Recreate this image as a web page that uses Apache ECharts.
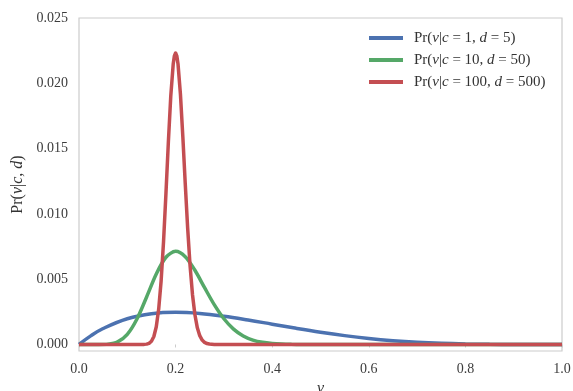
<!DOCTYPE html>
<html>
<head>
<meta charset="utf-8">
<script src="https://cdn.jsdelivr.net/npm/echarts@6/dist/echarts.min.js"></script>
<style>
  html, body { margin: 0; padding: 0; background: #ffffff; }
  #chart { width: 573px; height: 391px; }
</style>
</head>
<body>
<div id="chart"></div>
<script>
// Posterior densities Pr(nu | c, d) on a 1000-point grid (values per grid cell)
const seriesNames = ['Pr(ν|c = 1, d = 5)', 'Pr(ν|c = 10, d = 50)', 'Pr(ν|c = 100, d = 500)'];

const nuBlue = [0, 0.025, 0.05, 0.1, 0.15, 0.2, 0.25, 0.3, 0.35, 0.4, 0.45, 0.5, 0.55, 0.6, 0.65, 0.7, 0.75, 0.8, 0.85, 0.9, 0.95, 1.0];
const prBlue = [0, 0.000678, 0.001222, 0.001968, 0.002349, 0.002458, 0.002373, 0.002161, 0.001874, 0.001555, 0.001235, 0.000938, 0.000677, 0.000461, 0.000293, 0.000170, 0.0000879, 0.0000384, 0.0000129, 0.0000027, 0.0000002, 0];

const nuGreen = [0, 0.02, 0.04, 0.06, 0.08, 0.10, 0.12, 0.14, 0.16, 0.18, 0.20, 0.22, 0.24, 0.26, 0.28, 0.30, 0.32, 0.34, 0.36, 0.38, 0.40, 0.42, 0.44, 0.46, 0.50, 0.6, 0.7, 0.8, 0.9, 1.0];
const prGreen = [0, 0.0000002, 0.0000011, 0.0000267, 0.000200, 0.000775, 0.001952, 0.003636, 0.005392, 0.006679, 0.00713, 0.006723, 0.00568, 0.004349, 0.00305, 0.00197, 0.001179, 0.000654, 0.000339, 0.000163, 0.0000735, 0.0000308, 0.000012, 0.0000044, 0.0000005, 0, 0, 0, 0, 0];

const nuRed = [0, 0.1, 0.13, 0.135, 0.14, 0.145, 0.15, 0.155, 0.16, 0.165, 0.17, 0.175, 0.18, 0.185, 0.19, 0.195, 0.1975, 0.2, 0.2025, 0.205, 0.21, 0.215, 0.22, 0.225, 0.23, 0.235, 0.24, 0.245, 0.25, 0.255, 0.26, 0.265, 0.27, 0.28, 0.3, 0.5, 0.75, 1.0];
const prRed = [0, 0, 0.000002, 0.000007, 0.0000264, 0.0000857, 0.000244, 0.00061, 0.00136, 0.002708, 0.004852, 0.007854, 0.011547, 0.015483, 0.019015, 0.021454, 0.022104, 0.02232, 0.022104, 0.021477, 0.019164, 0.015899, 0.012298, 0.008883, 0.006009, 0.00381, 0.002272, 0.001274, 0.000673, 0.000336, 0.000158, 0.0000706, 0.0000299, 0.0000046, 0, 0, 0, 0];

const xTickValues = [0, 0.2, 0.4, 0.6, 0.8, 1.0];
const xTickLabels = ['0.0', '0.2', '0.4', '0.6', '0.8', '1.0'];
const yTickValues = [0, 0.005, 0.010, 0.015, 0.020, 0.025];
const yTickLabels = ['0.000', '0.005', '0.010', '0.015', '0.020', '0.025'];

const colors = ['#4c72b0', '#55a868', '#c44e52'];
const serif = '"Liberation Serif", "DejaVu Serif", serif';

function pairs(xs, ys) { return xs.map((x, i) => [x, ys[i]]); }
function lookup(values, labels, v) {
  for (let i = 0; i < values.length; i++) {
    if (Math.abs(values[i] - v) < 1e-7) return labels[i];
  }
  return '';
}

// Math-style text: italic symbols, upright digits and operators
function mathRich(size) {
  return {
    n: { fontFamily: serif, fontSize: size, color: '#333' },
    i: { fontFamily: serif, fontSize: size, color: '#333', fontStyle: 'italic' }
  };
}
function legendText(name) {
  const m = name.match(/c = (\d+), d = (\d+)/);
  return '{n|Pr(}{i|ν}{n||}{i|c}{n| = ' + m[1] + ', }{i|d}{n| = ' + m[2] + ')}';
}

const chart = echarts.init(document.getElementById('chart'), null, { renderer: 'canvas' });
chart.setOption({
  animation: false,
  backgroundColor: '#ffffff',
  color: colors,
  grid: {
    left: 79, right: 11, top: 18, bottom: 40,
    outerBoundsMode: 'none',
    containLabel: false,
    show: true, borderColor: '#cccccc', borderWidth: 1.2, backgroundColor: 'transparent'
  },
  legend: {
    orient: 'vertical',
    left: 364, top: 25,
    icon: 'rect',
    itemWidth: 34, itemHeight: 4,
    itemGap: 6,
    data: seriesNames,
    formatter: legendText,
    textStyle: { rich: mathRich(15), lineHeight: 16, height: 16, padding: [0, 0, 0, 6] }
  },
  xAxis: {
    type: 'value',
    min: 0, max: 1, interval: 0.2,
    name: 'ν',
    nameLocation: 'middle',
    nameGap: 27,
    nameTextStyle: { fontFamily: serif, fontSize: 16, fontStyle: 'italic', color: '#333' },
    axisLine: { show: false },
    axisTick: { show: true, length: 3, lineStyle: { color: '#cccccc' } },
    splitLine: { show: false },
    axisLabel: {
      margin: 11,
      fontFamily: serif, fontSize: 14, color: '#3c3c3c',
      formatter: v => lookup(xTickValues, xTickLabels, v)
    }
  },
  yAxis: {
    type: 'value',
    min: -0.0005, max: 0.025, interval: 0.0005,
    name: '{n|Pr(}{i|ν}{n||}{i|c}{n|, }{i|d}{n|)}',
    nameLocation: 'middle',
    nameGap: 49,
    nameRotate: 90,
    nameTextStyle: { rich: mathRich(16) },
    axisLine: { show: false },
    axisTick: { show: false },
    splitLine: { show: false },
    axisLabel: {
      margin: 11,
      fontFamily: serif, fontSize: 14, color: '#3c3c3c',
      formatter: v => lookup(yTickValues, yTickLabels, v)
    }
  },
  series: [
    { name: seriesNames[0], type: 'line', data: pairs(nuBlue, prBlue), smooth: 0.4, showSymbol: false, symbol: 'none', lineStyle: { width: 3.5 } },
    { name: seriesNames[1], type: 'line', data: pairs(nuGreen, prGreen), smooth: 0.3, showSymbol: false, symbol: 'none', lineStyle: { width: 3.5 } },
    { name: seriesNames[2], type: 'line', data: pairs(nuRed, prRed), smooth: false, showSymbol: false, symbol: 'none', lineStyle: { width: 3.5, join: 'round' } }
  ]
});
</script>
</body>
</html>
